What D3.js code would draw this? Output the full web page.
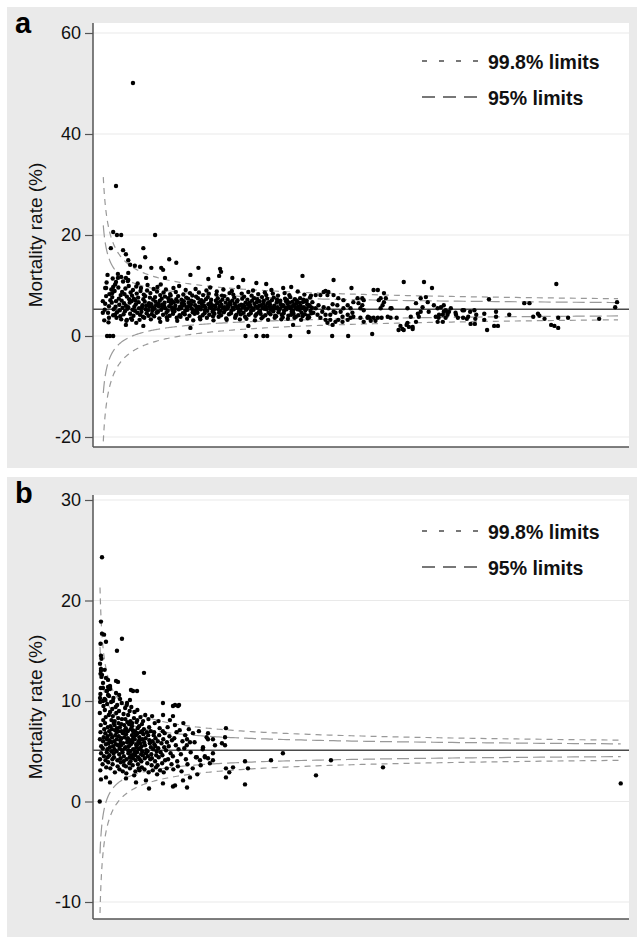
<!DOCTYPE html>
<html>
<head>
<meta charset="utf-8">
<script src="https://cdn.jsdelivr.net/npm/d3@7"></script>
<style>
body { margin: 0; background: #fff; }
svg { display: block; }
</style>
</head>
<body>
<div id="viz"></div>
<script>
// Funnel plots of mortality rate against hospital volume, two panels (a, b).
// Dots; the limit lines come from the mean rate.

var PanelLabels = ["a", "b"];
var AxisTitle = "Mortality rate (%)";
var LegendLabels = ["99.8% limits", "95% limits"];
var ZValues = [3.09, 1.96];

var MeanA = 5.3;
var TicksA = [-20, 0, 20, 40, 60];
var FunnelRangeA = [7, 1100];

var MeanB = 5.1;
var TicksB = [-10, 0, 10, 20, 30];
var FunnelRangeB = [17.6, 4580];

// panel a: dense band [n, rate]
var CoreA = [
  [10,5.2],[13,7.9],[9,3.1],[14,10.6],[11,6.4],
  [17,4.6],[20,8.3],[16,12.1],[19,5.9],[22,7.1],[18,2.7],
  [25,6.6],[28,4.1],[24,9.2],[27,11.4],[29,5.3],[26,7.7],
  [33,5.8],[31,8.9],[35,3.6],[34,6.9],[32,10.2],[36,4.7],
  [40,7.4],[42,5.1],[39,9.6],[43,3.9],[41,6.2],[44,8.1],[38,12.3],
  [48,5.6],[46,7.0],[50,4.3],[47,8.7],[49,10.8],[51,6.5],[45,3.3],
  [55,6.0],[53,4.9],[57,7.8],[54,9.4],[58,5.4],[56,3.0],[52,8.3],
  [62,7.3],[60,5.7],[64,4.4],[61,9.9],[63,6.6],[65,8.6],[59,10.9],
  [69,5.2],[67,6.9],[71,4.0],[68,8.0],[72,7.4],[70,9.1],[66,3.5],
  [76,6.3],[74,5.0],[78,8.4],[75,7.1],[79,4.6],[77,9.8],[73,5.8],
  [83,5.5],[81,7.6],[85,4.2],[82,6.7],[86,8.9],[84,3.2],[80,10.4],
  [90,6.1],[88,4.8],[92,7.3],[89,5.6],[93,8.2],[91,3.8],[87,9.5],
  [97,5.3],[95,6.8],[99,4.5],[96,7.9],[100,9.0],[98,6.0],[94,3.6],
  [104,6.5],[102,5.1],[106,7.6],[103,4.0],[107,8.5],[105,5.8],[101,10.1],
  [111,5.0],[109,6.3],[113,7.2],[110,4.3],[114,9.3],[112,5.7],[108,3.3],
  [118,6.8],[116,5.4],[120,4.6],[117,7.7],[121,8.8],[119,6.1],[115,3.9],
  [125,5.9],[123,4.8],[127,7.0],[124,6.4],[128,8.1],[126,3.5],[122,9.7],
  [132,6.2],[130,5.2],[134,4.2],[131,7.4],[135,8.6],[133,5.7],[129,10.2],
  [139,5.5],[137,6.6],[141,4.6],[138,7.8],[142,3.7],[140,9.2],[136,6.0],
  [146,6.9],[144,5.0],[148,4.0],[145,7.5],[149,8.3],[147,5.9],[143,3.2],
  [153,5.6],[151,6.4],[155,4.4],[152,7.1],[156,9.5],[154,5.1],[150,8.0],
  [160,6.0],[158,4.9],[162,7.3],[159,5.4],[163,3.6],[161,8.7],[157,6.7],
  [167,5.3],[165,6.8],[169,4.1],[166,7.9],[170,5.8],[168,9.9],[164,3.0],
  [174,6.5],[172,5.5],[176,4.5],[173,7.2],[177,8.2],[175,6.0],[171,3.8],
  [181,5.0],[179,6.2],[183,7.6],[180,4.3],[184,5.7],[182,9.1],[178,6.9],
  [188,6.6],[186,5.2],[190,4.0],[187,7.4],[191,8.5],[189,5.9],[185,3.4],
  [195,5.4],[193,6.3],[197,4.7],[194,7.0],[198,3.1],[196,8.0],[192,6.0],
  [202,6.1],[200,5.0],[204,7.8],[201,4.4],[205,5.6],[203,9.3],[199,6.8],
  [209,5.8],[207,4.6],[211,6.7],[208,7.5],[212,3.7],[210,8.6],[206,5.2],
  [216,6.4],[214,5.3],[218,4.1],[215,7.1],[219,8.1],[217,5.9],[213,3.3],
  [223,5.1],[221,6.0],[225,7.3],[222,4.5],[226,9.0],[224,5.6],[220,6.8],
  [230,6.3],[228,5.0],[232,4.2],[229,7.7],[233,5.7],[231,8.4],[227,3.6],
  [237,5.5],[235,6.6],[239,4.8],[236,7.2],[240,3.9],[238,6.1],[234,9.6],
  [244,6.0],[242,5.2],[246,7.0],[243,4.4],[247,8.2],[245,5.8],[241,3.1],
  [251,5.3],[249,6.5],[253,4.6],[250,7.5],[254,5.9],[252,3.8],[248,8.8],
  [258,6.2],[256,5.0],[260,7.2],[257,4.1],[261,5.6],[259,8.0],[255,6.8],
  [265,5.7],[263,4.7],[267,6.6],[264,7.9],[268,3.5],[266,5.2],[262,9.2],
  [272,6.1],[270,5.4],[274,4.3],[271,7.3],[275,8.5],[273,5.8],[269,3.2],
  [279,5.0],[277,6.3],[281,7.0],[278,4.5],[282,5.6],[280,8.9],[276,6.7],
  [286,6.4],[284,5.3],[288,4.0],[285,7.6],[289,5.9],[287,3.6],[283,8.2],
  [293,5.5],[291,6.8],[295,4.8],[292,7.1],[296,6.0],[294,9.7],[290,4.2],
  [300,6.2],[298,5.1],[302,7.4],[299,4.3],[303,5.7],[301,8.4],[297,3.3],
  [307,5.8],[305,4.6],[309,6.6],[306,7.8],[310,5.2],[308,3.8],[304,6.1],
  [314,6.3],[312,5.4],[316,4.2],[313,7.2],[317,5.8],[315,8.7],[311,3.4],
  [321,5.0],[319,6.0],[323,7.0],[320,4.5],[324,5.5],[322,8.0],[318,6.6],
  [328,6.4],[326,5.2],[330,4.0],[327,7.5],[331,5.8],[329,3.1],[325,9.0],
  [335,5.6],[333,6.7],[337,4.7],[334,7.3],[338,6.0],[336,8.3],[332,4.3],
  [342,6.1],[340,5.0],[344,7.7],[341,4.4],[345,5.6],[343,3.5],[339,6.9],
  [349,5.4],[347,6.4],[351,4.1],[348,7.0],[352,5.9],[350,8.6],[346,3.8],
  [356,6.5],[354,5.3],[358,4.6],[355,7.4],[359,5.8],[357,3.2],[353,8.1],
  [363,5.2],[361,6.2],[365,7.1],[362,4.3],[366,5.6],[364,9.1],[360,6.7],
  [370,6.0],[368,4.9],[372,4.0],[369,7.6],[373,5.5],[371,3.6],[367,8.4],
  [377,5.7],[375,6.6],[379,4.7],[376,7.2],[380,5.1],[378,8.0],[374,3.9],
  [384,6.3],[382,5.4],[386,4.2],[383,7.0],[387,5.9],[385,3.3],[381,6.8],
  [391,5.0],[389,6.1],[393,7.4],[390,4.5],[394,5.6],[392,8.5],[388,3.7],
  [398,6.4],[396,5.3],[400,4.0],[397,7.1],[401,5.8],[399,3.4],[395,6.9],
  [405,5.5],[403,6.6],[407,4.8],[404,7.7],[408,5.9],[406,4.2],[402,8.1],
  [412,6.2],[410,5.0],[414,7.3],[411,4.4],[415,5.6],[413,3.6],[409,6.8],
  [419,5.3],[417,6.4],[421,4.1],[418,7.0],[422,5.8],[420,8.8],[416,3.8],
  [426,6.0],[424,5.2],[428,4.6],[425,7.5],[429,5.5],[427,3.2],[423,6.6],
  [433,5.7],[431,6.7],[435,4.3],[432,7.2],[436,5.1],[434,8.2],[430,3.9],
  [440,6.3],[438,5.4],[442,4.0],[439,7.0],[443,5.9],[441,3.5],[437,6.9],
  [447,5.0],[445,6.1],[449,4.5],[446,7.6],[450,5.6],[448,8.0],[444,3.7]
];

// panel a: single points [n, rate]
var PointsA = [
  [70,50.1],[34,29.7],[28,20.6],[36,20.0],[45,20.0],[117,20.0],
  [6,6.9],[13,9.5],[6,4.6],[19,3.6],[15,0],[21,0],[28,0],[32,4.2],[26,8.5],[28,9.7],[11,9.5],
  [23,17.4],[49,17.0],[55,16.2],[60,15.0],[64,14.1],[74,13.9],[85,13.7],[92,17.4],[96,15.6],
  [147,15.2],[162,14.5],[130,13.5],[134,13.1],[109,13.5],[209,13.5],[255,13.3],[257,12.7],
  [98,11.5],[138,11.5],[192,12.1],[253,11.9],[230,11.3],[281,11.5],[304,11.1],[430,11.9],
  [332,10.5],[353,10.3],[406,9.7],[389,9.5],[38,11.5],[34,10.7],[45,11.7],[55,11.5],[60,11.1],[60,12.5],
  [55,2.2],[77,2.6],[92,2.0],[128,2.8],[192,1.6],[315,2.0],[309,0],[332,0],[347,0],[355,0],
  [404,0],[443,0.8],[57,3.2],[68,3.2],[410,2.2],
  [496,11.1],[534,9.5],[581,9.1],[590,9.1],[603,8.5],[645,10.7],[688,10.7],[705,9.5],[969,10.3],
  [826,7.3],[901,6.5],[912,6.5],[1098,6.7],[1094,5.7],[1060,3.4],[994,3.6],[973,3.6],[958,2.2],
  [965,2.0],[973,1.6],[944,3.4],[933,4.0],[930,4.4],[869,4.2],[841,4.8],[841,3.8],[837,2.0],
  [845,2.0],[822,1.2],[816,3.2],[816,4.4],[795,5.1],[799,4.2],[797,3.4],[786,4.8],[782,3.8],
  [773,5.1],[771,3.6],[756,4.2],[760,3.6],[920,3.8],
  [717,5.5],[724,5.7],[730,4.8],[738,4.2],[720,4.2],[734,3.6],[741,4.8],[713,3.8],[728,2.8],
  [755,4.6],[770,5.1],[779,3.4],[787,2.4],[796,2.4],
  [493,0],[527,0],[578,0.4],[642,1.4],[651,2.2],[664,1.4],
  [730,6.1],[734,5.1],[738,4.6],[745,5.5],[728,4.2],[719,3.6],[717,2.8],[709,6.1],[696,6.7],
  [692,7.7],[681,7.5],[685,5.7],[698,4.8],[677,3.8],[671,2.8],[664,1.8],[656,1.8],[653,2.6],
  [645,1.2],[634,1.2],[638,2.0],[675,4.4],[660,3.8],[653,5.5],[681,4.8],[671,6.5],[619,5.5],
  [630,3.6],[611,3.8],[617,3.6],[598,3.6],[590,3.6],[581,3.6],[573,3.6],[569,3.8],[596,5.5],
  [600,6.1],[603,6.7],[596,7.5],[592,7.1],[607,7.5],[617,5.5],
  [560,7.1],[557,6.1],[553,5.5],[560,5.1],[549,6.5],[547,7.5],[538,6.7],[532,5.5],[536,4.6],
  [526,4.2],[515,3.8],[506,3.2],[489,3.2],[483,2.6],[479,4.2],[472,4.8],[462,4.2],[453,4.6],
  [458,5.5],[464,6.1],[475,5.7],[485,5.5],[496,4.8],[494,6.3],[504,6.1],[506,7.5],[483,8.1],
  [475,8.7],[468,8.1],[458,8.1],[451,6.7],[517,7.1],[526,6.1],[538,3.8],[553,3.6],[568,3.6],
  [532,3.6],[494,2.2],[500,2.8],[515,2.8],[526,3.2],[511,4.8],[500,4.6],[489,4.2],[468,3.6],
  [479,3.2],[485,8.7],[479,8.9],[496,8.1],[557,7.5],[560,2.8],[575,3.0],[585,3.0],[517,5.5]
];

// panel b: dense band [n, rate]
var CoreB = [
  [18,4.2],[22,6.9],[16,8.8],[25,11.3],[20,3.1],[28,5.5],[19,9.9],[24,7.6],[30,12.4],[17,6.2],[27,4.8],[21,10.7],
  [42,5.3],[46,8.1],[40,3.7],[50,6.4],[44,11.8],[55,7.2],[48,9.5],[52,4.5],[58,13.1],[45,6.0],[57,10.2],
  [62,7.8],[66,4.1],[60,9.1],[70,5.7],[64,6.8],[75,11.0],[68,8.4],[72,3.4],[78,6.2],[65,10.1],[77,4.9],
  [82,5.2],[86,7.4],[80,9.7],[90,3.9],[84,6.5],[95,8.6],[88,12.1],[92,5.8],[98,7.0],[85,4.4],[97,10.5],
  [102,6.1],[106,8.9],[100,4.6],[110,7.5],[104,5.4],[115,9.9],[108,3.3],[112,6.7],[118,8.1],[105,11.4],[117,5.0],
  [122,7.2],[126,4.2],[120,5.9],[130,8.5],[124,6.4],[135,10.3],[128,3.7],[132,5.5],[138,7.8],[125,9.2],[137,4.8],
  [142,6.0],[146,8.0],[140,4.4],[150,7.1],[144,5.2],[155,9.4],[148,2.9],[152,6.6],[158,10.8],[145,7.6],[157,5.7],
  [162,5.0],[166,7.3],[160,8.8],[170,4.1],[164,6.2],[175,5.6],[168,9.6],[172,3.5],[178,7.0],[165,6.9],[177,8.3],
  [182,6.5],[186,4.7],[180,7.8],[190,5.3],[184,9.0],[195,6.1],[188,3.2],[192,7.4],[198,5.8],[185,10.6],[197,4.3],
  [202,5.6],[206,7.0],[200,3.9],[210,8.2],[204,6.3],[215,4.9],[208,9.8],[212,5.1],[218,6.8],[205,7.7],[217,3.0],
  [222,6.9],[226,4.5],[220,5.8],[230,7.6],[224,8.7],[235,5.3],[228,3.6],[232,6.4],[238,9.3],[225,4.0],[237,7.1],
  [242,5.4],[246,6.7],[240,8.2],[250,4.2],[244,7.3],[255,5.9],[248,2.8],[252,9.6],[258,6.2],[245,3.5],[257,7.9],
  [262,6.3],[266,4.8],[260,7.0],[270,5.5],[264,8.6],[275,3.8],[268,6.0],[272,7.7],[278,4.4],[265,5.1],[277,9.0],
  [282,5.0],[286,7.2],[280,3.3],[290,6.1],[284,8.0],[295,4.6],[288,5.7],[292,9.4],[298,6.6],[285,4.0],[297,7.5],
  [302,5.9],[306,4.3],[300,7.8],[310,6.4],[304,3.6],[315,8.3],[308,5.2],[312,6.9],[318,4.8],[305,7.1],[317,2.6],
  [322,6.2],[326,5.0],[320,8.9],[330,4.1],[324,7.0],[335,5.7],[328,3.0],[332,6.6],[338,7.9],[325,4.6],[337,5.4],
  [342,4.9],[346,6.8],[340,5.6],[350,3.7],[344,8.1],[355,6.0],[348,7.3],[352,4.4],[358,5.2],[345,9.1],[357,3.3],
  [362,6.4],[366,4.2],[360,7.5],[370,5.3],[364,3.1],[375,6.9],[368,5.8],[372,8.4],[378,4.7],[365,6.1],
  [382,5.5],[386,7.0],[380,4.0],[390,6.2],[384,3.4],[395,8.0],[388,5.0],[392,4.6],[398,6.7],[385,7.7],
  [404,5.9],[410,4.3],[402,7.2],[418,6.3],[407,3.2],[424,5.1],[414,8.6],[420,4.8],[428,6.9],[412,5.6],
  [434,5.0],[440,6.6],[432,3.8],[448,7.4],[437,4.5],[454,5.8],[444,2.9],[450,6.1],[458,4.2],[442,8.2],
  [464,5.4],[470,3.6],[462,7.0],[478,6.0],[467,4.7],[484,5.2],[474,8.5],[480,3.1],[488,6.6],[472,4.3],
  [494,5.7],[500,4.0],[492,6.9],[508,3.4],[497,7.8],[514,5.0],[504,6.3],[510,4.6],[518,2.7],[502,5.5],
  [524,6.0],[532,4.4],[522,3.6],[540,7.3],[528,5.3],[548,4.9],[536,6.6],[544,3.1],[556,5.8],[530,8.0],
  [564,4.6],[572,6.2],[562,3.8],[580,5.4],[568,7.0],[588,4.1],[576,2.9],[584,6.8],[596,5.1],[570,8.6],
  [604,5.9],[614,4.2],[602,3.3],[626,6.5],[610,7.4],[636,4.8],[620,5.5],[644,3.7],[630,8.1],[648,6.1],
  [656,4.5],[668,6.3],[660,3.2],[682,5.6],[674,7.6],[694,4.0],[688,6.9],[706,5.2],[700,3.5],[716,7.1],
  [726,4.7],[740,6.0],[732,3.0],[756,5.3],[748,7.8],[770,4.2],[764,6.6],[784,3.7],[778,5.6],[796,7.2],
  [812,4.9],[830,3.3],[846,5.9],[866,4.4],[884,7.0],[900,3.6],[918,5.2],[936,4.5],[952,6.4],[870,2.7]
];

// panel b: single points [n, rate]
var PointsB = [
  [35,24.3],[26,17.9],[35,16.7],[53,16.6],[22,15.7],[70,15.9],[210,16.2],[166,15.0],[26,14.5],
  [18,13.7],[30,14.2],[26,13.0],[35,12.6],[70,12.3],[158,12.0],[175,11.9],[403,12.8],[18,10.3],
  [44,10.0],[79,11.0],[105,11.2],[88,10.6],[307,11.0],[342,11.0],[131,10.0],[193,10.2],[280,10.1],
  [254,9.8],[569,9.8],[657,9.5],[701,9.5],[26,13.2],[22,12.7],[44,11.3],[88,11.4],[105,11.5],
  [289,11.1],[675,9.6],[710,9.6],[657,8.5],[1121,7.3],[964,6.8],[1007,6.2],[964,6.2],[832,6.8],
  [806,5.9],[920,5.4],[1025,5.6],[1113,5.6],[1620,4.8],[1516,4.1],[1288,4.0],[1121,3.3],
  [1183,3.4],[1314,3.3],[1121,2.4],[1288,1.7],[964,4.3],[1007,4.1],[980,3.8],[858,4.4],[894,4.1],
  [806,2.4],[745,2.1],[657,1.5],[569,1.8],[333,1.9],[245,2.3],[26,2.2],[70,2.4],[105,1.9],
  [420,2.1],[15,0],[447,1.3],[675,1.6],[780,1.4],[1910,2.6],[2041,4.1],[2497,3.4],[4580,1.8],
  [1086,5.8],[1113,6.4],[1007,4.8],[937,4.4],[780,6.2],[1150,2.9]
];

var W = 637, H = 938;
var PlotLeft = 93, PlotRight = 629;
var Panels = [
    {top: 7, height: 461, plotTop: 23, yDom: [-20, 60], yPix: [437, 33], xDom: [0, 1100], xPix: [100, 618]},
    {top: 477, height: 460, plotTop: 495, yDom: [-10, 30], yPix: [902, 500], xDom: [0, 4600], xPix: [98, 623]}
];
var FontFamily = "'Liberation Sans', Arial, Helvetica, sans-serif";

function add_panel(svg, i, core, points, mean, ticks, nRange) {
    var P = Panels[i];
    var g = svg.append("g");

    g.append("rect")
        .attr("x", 7).attr("y", P.top)
        .attr("width", W - 7).attr("height", P.height)
        .attr("fill", "#eaeaea");
    g.append("rect")
        .attr("x", PlotLeft).attr("y", P.plotTop)
        .attr("width", PlotRight - PlotLeft).attr("height", 424)
        .attr("fill", "#fff");

    var x = d3.scaleLinear().domain(P.xDom).range(P.xPix);
    var y = d3.scaleLinear().domain(P.yDom).range(P.yPix);

    // grid lines
    g.append("g").selectAll("line").data(ticks).enter().append("line")
        .attr("x1", PlotLeft).attr("x2", PlotRight)
        .attr("y1", function(d) { return y(d); })
        .attr("y2", function(d) { return y(d); })
        .attr("stroke", "#e9e9e9").attr("stroke-width", 1.2);

    // funnel limits
    var ns = d3.range(0, 301).map(function(k) {
        return nRange[0] * Math.pow(nRange[1] / nRange[0], k / 300);
    });
    var line = d3.line().x(function(d) { return x(d[0]); }).y(function(d) { return y(d[1]); });
    var dashes = ["6,5", "12,5"];
    ZValues.forEach(function(z, zi) {
        [-1, 1].forEach(function(sgn) {
            var pts = ns.map(function(n) {
                return [n, mean + sgn * z * Math.sqrt(mean * (100 - mean) / n)];
            });
            g.append("path").attr("d", line(pts))
                .attr("fill", "none").attr("stroke", "#999")
                .attr("stroke-width", 1.2).attr("stroke-dasharray", dashes[zi]);
        });
    });

    // mean line
    g.append("line")
        .attr("x1", PlotLeft).attr("x2", PlotRight)
        .attr("y1", y(mean)).attr("y2", y(mean))
        .attr("stroke", "#4a4a4a").attr("stroke-width", 1.5);

    // dots
    var all = core.concat(points);
    g.append("g").selectAll("circle").data(all).enter().append("circle")
        .attr("cx", function(d) { return x(d[0]); })
        .attr("cy", function(d) { return y(d[1]); })
        .attr("r", 2.2)
        .attr("fill", "#000");

    // axes
    var ax = g.append("g")
        .attr("transform", "translate(" + PlotLeft + ",0)")
        .call(d3.axisLeft(y).tickValues(ticks).tickSize(8).tickPadding(4)
              .tickFormat(function(d) { return String(d); }));
    ax.select(".domain").remove();
    ax.selectAll(".tick line").attr("stroke", "#555").attr("stroke-width", 1.2);
    ax.selectAll(".tick text")
        .attr("font-family", FontFamily).attr("font-size", 18).attr("fill", "#111");

    g.append("line")
        .attr("x1", PlotLeft).attr("x2", PlotLeft)
        .attr("y1", P.plotTop).attr("y2", P.plotTop + 424)
        .attr("stroke", "#555").attr("stroke-width", 1.5);
    g.append("line")
        .attr("x1", PlotLeft).attr("x2", PlotRight)
        .attr("y1", P.plotTop + 424).attr("y2", P.plotTop + 424)
        .attr("stroke", "#555").attr("stroke-width", 1.5);

    // y title
    var cy = P.plotTop + 212;
    g.append("text")
        .attr("transform", "translate(42," + cy + ") rotate(-90)")
        .attr("text-anchor", "middle")
        .attr("font-family", FontFamily).attr("font-size", 19).attr("fill", "#111")
        .text(AxisTitle);

    // panel letter
    g.append("text")
        .attr("x", 15).attr("y", P.top + 26)
        .attr("font-family", FontFamily).attr("font-size", 29).attr("font-weight", "bold")
        .attr("fill", "#000")
        .text(PanelLabels[i]);

    // legend
    var legendDash = ["5,12", "13,8"];
    LegendLabels.forEach(function(lab, li) {
        g.append("line")
            .attr("x1", 422).attr("x2", 480)
            .attr("y1", P.top + 54 + li * 36).attr("y2", P.top + 54 + li * 36)
            .attr("stroke", "#777").attr("stroke-width", 2)
            .attr("stroke-dasharray", legendDash[li]);
        g.append("text")
            .attr("x", 488).attr("y", P.top + 62 + li * 36)
            .attr("font-family", FontFamily).attr("font-size", 19.5).attr("font-weight", "bold")
            .attr("fill", "#111")
            .text(lab);
    });
}

function main() {
    var svg = d3.select("#viz").append("svg")
        .attr("width", W).attr("height", H);
    svg.append("rect").attr("width", W).attr("height", H).attr("fill", "#fff");

    add_panel(svg, 0, CoreA, PointsA, MeanA, TicksA, FunnelRangeA);
    add_panel(svg, 1, CoreB, PointsB, MeanB, TicksB, FunnelRangeB);
}

main();
</script>
</body>
</html>
